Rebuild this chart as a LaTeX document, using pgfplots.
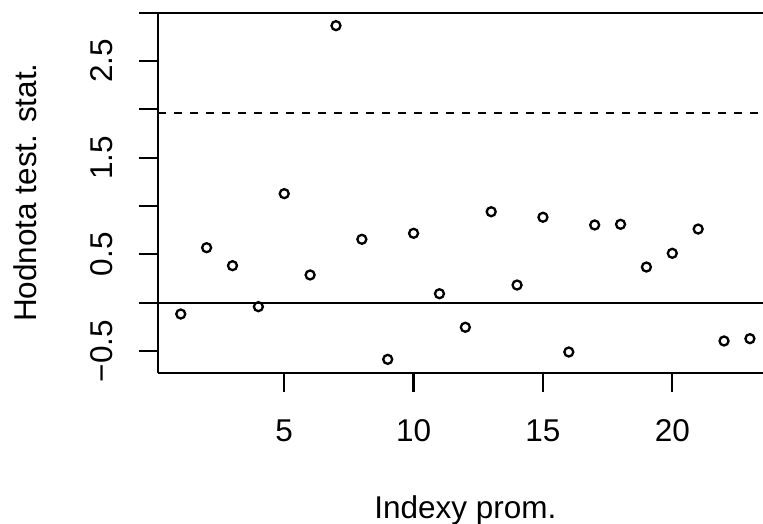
\documentclass[border=0pt]{standalone}
\usepackage{pgfplots}
\pgfplotsset{compat=1.18}
\usepackage{fontspec}
\setmainfont{Liberation Sans}
\pgfplotstableread{
x y
1 -0.117
2 0.569
3 0.383
4 -0.041
5 1.128
6 0.287
7 2.866
8 0.656
9 -0.586
10 0.718
11 0.093
12 -0.254
13 0.941
14 0.183
15 0.884
16 -0.510
17 0.804
18 0.811
19 0.369
20 0.511
21 0.762
22 -0.396
23 -0.372
}\datatable
\usepackage{pgfplotstable}
\begin{document}
\fontsize{15.75}{19}\selectfont
\begin{tikzpicture}
\begin{axis}[
  scale only axis, width=302.5pt, height=180pt,
  xmin=0.12, xmax=23.506, ymin=-0.724, ymax=3,
  axis lines*=left,
  axis line style={line width=1.1pt},
  every tick/.style={black, line width=1.1pt},
  tick align=outside, major tick length=9.5pt,
  xtick={5,10,15,20},
  xticklabels={5,10,15,20},
  ytick={-0.5,0,0.5,1,1.5,2,2.5,3},
  yticklabels={−0.5,,0.5,,1.5,,2.5,},
  tick label style={font=\fontsize{15.75}{19}\selectfont},
  label style={font=\fontsize{15.75}{19}\selectfont},
  xticklabel style={anchor=base, yshift=-24.85pt},
  yticklabel style={rotate=90, anchor=base, yshift=13.35pt},
  xlabel={Indexy prom.},
  ylabel={Hodnota test. stat.},
  xlabel style={at={(axis description cs:0.508,-0.4064)}, anchor=base},
  ylabel style={at={(axis description cs:-0.2008,0.5)}, anchor=base},
]
\addplot[only marks, mark=o, mark size=2.25pt, mark options={line width=1.15pt}] table[x=x,y=y] {\datatable};
\addplot[black, line width=1.1pt] coordinates {(0.12,0) (23.506,0)};
\addplot[black, line width=1.1pt, dash pattern=on 4pt off 4pt] coordinates {(0.12,1.96) (23.506,1.96)};
\draw[line width=1.1pt] (rel axis cs:0,1) -- (rel axis cs:1,1);
\coordinate (bl) at (rel axis cs:0,0);
\coordinate (tr) at (rel axis cs:1,1);
\end{axis}
\pgfresetboundingbox
\path ([xshift=-79pt,yshift=-75.65pt]bl) rectangle ([yshift=6.35pt]tr);
\end{tikzpicture}
\end{document}
